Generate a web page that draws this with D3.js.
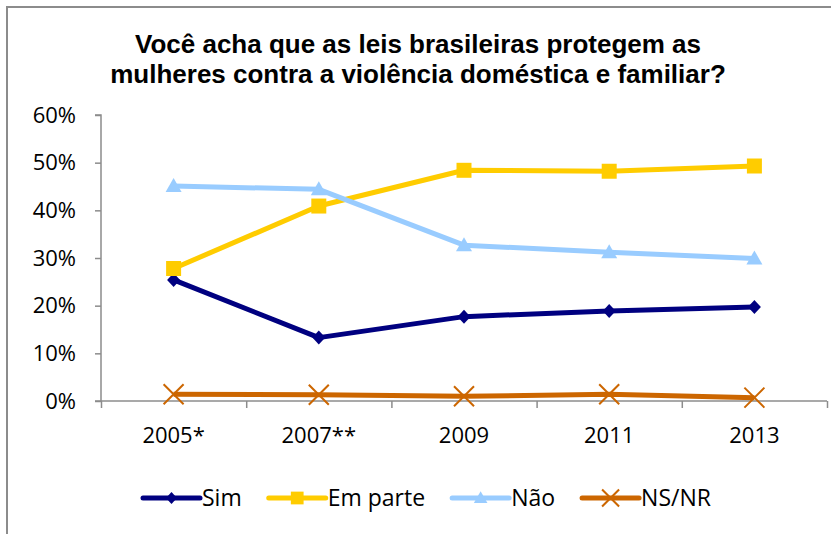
<!DOCTYPE html>
<html>
<head>
<meta charset="utf-8">
<script src="https://cdn.jsdelivr.net/npm/d3@7"></script>
<style>
  body { margin: 0; background: #fff; }
  svg { display: block; }
</style>
</head>
<body>
<svg width="831" height="534"></svg>
<script>
// chart data
const years = ["2005*", "2007**", "2009", "2011", "2013"];
const sim = [0.254, 0.133, 0.177, 0.189, 0.197];
const emParte = [0.278, 0.409, 0.484, 0.482, 0.493];
const nao = [0.451, 0.444, 0.327, 0.312, 0.299];
const nsnr = [0.014, 0.013, 0.010, 0.014, 0.007];
const seriesNames = ["Sim", "Em parte", "Não", "NS/NR"];
const yTicks = [0, 0.1, 0.2, 0.3, 0.4, 0.5, 0.6];
const titleLines = ["Você acha que as leis brasileiras protegem as",
                    "mulheres contra a violência doméstica e familiar?"];

const series = [
    { name: seriesNames[0], values: sim, color: "#000080", marker: "diamond" },
    { name: seriesNames[1], values: emParte, color: "#FFCC00", marker: "square" },
    { name: seriesNames[2], values: nao, color: "#99CCFF", marker: "triangle" },
    { name: seriesNames[3], values: nsnr, color: "#CC6600", marker: "x" }
];

const svg = d3.select("svg");
const tickFont = "'Open Sans', sans-serif";

// outer chart border (runs off the bottom/right edge like the original)
svg.append("rect")
    .attr("x", 7).attr("y", 7)
    .attr("width", 900).attr("height", 600)
    .attr("fill", "none")
    .attr("stroke", "#8c8c8c")
    .attr("stroke-width", 2);

// title
svg.append("text")
    .attr("text-anchor", "middle")
    .attr("font-family", "'Liberation Sans', Arial, sans-serif")
    .attr("font-weight", "bold")
    .attr("font-size", 26)
    .attr("fill", "#000")
    .selectAll("tspan")
    .data(titleLines)
    .enter().append("tspan")
    .attr("x", 418)
    .attr("y", (d, i) => 53 + i * 30)
    .text(d => d);

const plot = { left: 101, right: 827, top: 115, bottom: 401 };

const x = d3.scaleBand()
    .domain(years)
    .range([plot.left, plot.right]);

const xEdge = d3.scaleLinear()
    .domain([0, years.length])
    .range([plot.left, plot.right]);

const y = d3.scaleLinear()
    .domain([0, 0.6])
    .range([plot.bottom, plot.top]);

const cx = (d, i) => x(years[i]) + x.bandwidth() / 2;

// y axis
const yAxis = svg.append("g")
    .attr("transform", `translate(${plot.left},0)`)
    .call(d3.axisLeft(y).tickValues(yTicks).tickFormat(d3.format(".0%")).tickSize(6).tickPadding(19));
yAxis.selectAll("path, line").attr("stroke", "#8c8c8c").attr("stroke-width", 1.5);
yAxis.select(".domain").attr("d", `M-6,${plot.top}H0V${plot.bottom}H-6`);
yAxis.selectAll("text")
    .attr("font-family", tickFont)
    .attr("font-size", 22)
    .attr("fill", "#000");

// x axis: ticks between categories
const xAxis = svg.append("g")
    .attr("transform", `translate(0,${plot.bottom})`)
    .call(d3.axisBottom(xEdge).ticks(years.length).tickFormat("").tickSize(7));
xAxis.selectAll("path, line").attr("stroke", "#8c8c8c").attr("stroke-width", 1.5);
xAxis.select(".domain").attr("d", `M${plot.left},0H${plot.right}`);

// category labels
const xLabels = svg.append("g")
    .attr("transform", `translate(0,${plot.bottom})`)
    .call(d3.axisBottom(x).tickSize(0));
xLabels.select(".domain").remove();
xLabels.selectAll("text")
    .attr("y", 42)
    .attr("dy", 0)
    .attr("font-family", tickFont)
    .attr("font-size", 22)
    .attr("fill", "#000");

// marker shapes
function markerPath(type, s) {
    if (type === "diamond") return `M0,${-7 * s}L${6.5 * s},0L0,${7 * s}L${-6.5 * s},0Z`;
    if (type === "square") return `M${-7.5 * s},${-7.5 * s}h${15 * s}v${15 * s}h${-15 * s}Z`;
    if (type === "triangle") return `M0,${-8 * s}L${8 * s},${6 * s}L${-8 * s},${6 * s}Z`;
    return `M${-10 * s},${-10 * s}L${10 * s},${10 * s}M${-10 * s},${10 * s}L${10 * s},${-10 * s}`;
}

function drawMarker(sel, s, d) {
    sel.attr("d", markerPath(d.marker, s))
        .attr("fill", d.marker === "x" ? "none" : d.color)
        .attr("stroke", d.color)
        .attr("stroke-width", d.marker === "x" ? 2 : 0);
}

const line = d3.line()
    .x(cx)
    .y(d => y(d));

series.forEach(s => {
    const g = svg.append("g");
    g.append("path")
        .datum(s.values)
        .attr("d", line)
        .attr("fill", "none")
        .attr("stroke", s.color)
        .attr("stroke-width", 5)
        .attr("stroke-linejoin", "round");
    g.selectAll(".mk")
        .data(s.values)
        .enter().append("path")
        .attr("class", "mk")
        .attr("transform", (d, i) => `translate(${cx(d, i)},${y(d)})`)
        .each(function() { drawMarker(d3.select(this), 1, s); });
});

// legend
const legend = svg.append("g").attr("transform", "translate(0,498)");
let lx = 143;
series.forEach(s => {
    const item = legend.append("g").attr("transform", `translate(${lx},0)`);
    item.append("line")
        .attr("x1", 0).attr("x2", 57)
        .attr("stroke", s.color)
        .attr("stroke-width", 5)
        .attr("stroke-linecap", "round");
    item.append("path")
        .attr("transform", "translate(28.5,0)")
        .each(function() { drawMarker(d3.select(this), 0.85, s); });
    const t = item.append("text")
        .attr("x", 59)
        .attr("y", 8)
        .attr("font-family", tickFont)
        .attr("font-size", 23)
        .attr("fill", "#000")
        .text(s.name);
    lx += 59 + t.node().getComputedTextLength() + 27;
});
</script>
</body>
</html>
